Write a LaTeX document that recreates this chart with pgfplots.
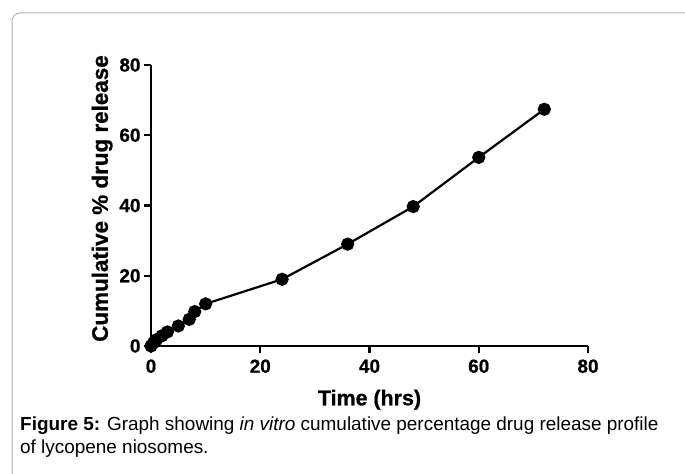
\documentclass[border=0pt]{standalone}
\usepackage{fontspec}
\setmainfont{Liberation Sans}
\newfontfamily\heavy[FakeBold=0.8]{Liberation Sans Bold}
\usepackage{pgfplots}
\pgfplotsset{compat=1.18}
\begin{document}
\begin{tikzpicture}[x=1bp,y=1bp]
\path[use as bounding box] (0,0) rectangle (685,-474);
\draw[line width=1bp, black!30] (12,-480) -- (12,-21) arc[start angle=180,end angle=90,radius=8] -- (690,-13);
\begin{axis}[
  at={(151bp,-346bp)}, anchor=south west,
  scale only axis, width=437bp, height=281bp,
  xmin=0, xmax=80, ymin=0, ymax=80,
  xtick={0,20,40,60,80}, ytick={0,20,40,60,80},
  axis lines=left, axis line style={-, line width=2.2bp},
  tick align=outside, major tick length=7bp,
  tick style={line width=2.2bp, black},
  clip=false,
  /pgf/number format/assume math mode=true,
  ticklabel style={font=\heavy\fontsize{19}{19}\selectfont},
  xticklabel style={yshift=-3bp},
  xlabel={Time (hrs)},
  ylabel={Cumulative \% drug release},
  xlabel style={font=\heavy\fontsize{21.5}{21.5}\selectfont, yshift=-10bp},
  ylabel style={font=\heavy\fontsize{22.5}{22.5}\selectfont, yshift=0bp, xshift=7bp},
]
\addplot[black, line width=2.2bp, mark=*, mark size=5.5bp, mark options={solid}] coordinates {
(0,0) (0.5,1.0) (1,1.8) (2,2.9) (3,4.0) (5,5.7) (7,7.6) (8,9.8) (10,12.0)
(24,19.0) (36,29.0) (48,39.7) (60,53.7) (72,67.4)
};
\end{axis}
\node[anchor=base west, inner sep=0pt, font=\fontsize{19}{19}\selectfont] at (20,-430) {\textbf{Figure 5:} Graph showing \textit{in vitro} cumulative percentage drug release profile};
\node[anchor=base west, inner sep=0pt, font=\fontsize{19}{19}\selectfont] at (20,-453) {of lycopene niosomes.};
\end{tikzpicture}
\end{document}
